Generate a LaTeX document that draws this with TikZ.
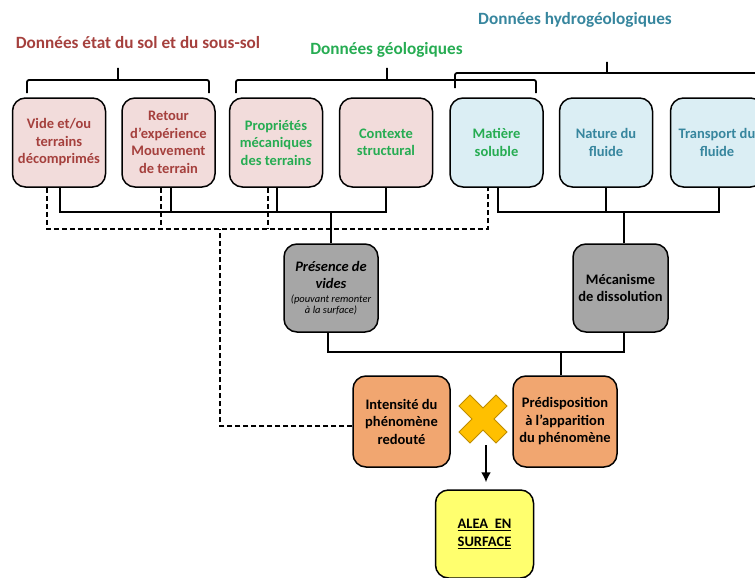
\documentclass[tikz,border=0pt]{standalone}
\usepackage{fontspec}
\setmainfont{Carlito}
\usepackage{tikz}
\usetikzlibrary{arrows.meta}

\definecolor{redtxt}{RGB}{165,64,61}
\definecolor{greentxt}{RGB}{38,172,82}
\definecolor{bluetxt}{RGB}{55,134,158}
\definecolor{pinkfill}{RGB}{242,220,219}
\definecolor{bluefill}{RGB}{219,238,244}
\definecolor{grayfill}{RGB}{166,166,166}
\definecolor{orangefill}{RGB}{241,166,112}
\definecolor{yellowfill}{RGB}{255,255,110}
\definecolor{crossfill}{RGB}{255,192,0}
\definecolor{crossline}{RGB}{190,140,0}

\newcommand{\smalltxt}[1]{{\fontsize{10.5}{12}\selectfont\mdseries\itshape #1}}

\begin{document}
\begin{tikzpicture}[x=1pt,y=-1pt,
  box/.style={draw,line width=1.5pt,rounded corners=13pt,minimum width=93pt,minimum height=89pt,
    align=center,inner sep=1pt,font=\fontsize{14.5}{17.5}\selectfont\bfseries},
  title/.style={font=\fontsize{17.2}{20}\selectfont\bfseries},
  wire/.style={line width=1.8pt},
  dashwire/.style={line width=1.8pt,dash pattern=on 5pt off 3pt},
  brace/.style={line width=1.8pt,rounded corners=2pt}]
\useasboundingbox (0,0) rectangle (755,578);

\node[title,text=redtxt] (41) at (138,43) {Données état du sol et du sous-sol};
\node[title,text=greentxt] (42) at (386.5,50) {Données géologiques};
\node[title,text=bluetxt] (43) at (575,20) {Données hydrogéologiques};

\draw[brace] (27,93) -- (27,80) -- (209,80) -- (209,93) (118,80) -- (118,68);
\draw[brace] (236,93) -- (236,80) -- (536,80) -- (536,93) (387,80) -- (387,68);
\draw[brace] (455,88) -- (455,73) -- (770,73) (607,73) -- (607,62);

\node[box,fill=pinkfill,text=redtxt] (31) at (59,142.5) {Vide et/ou\\terrains\\décomprimés};
\node[box,fill=pinkfill,text=redtxt] (32) at (168.5,142.5) {Retour\\d’expérience\\Mouvement\\de terrain};
\node[box,fill=pinkfill,text=greentxt] (33) at (276,142.5) {Propriétés\\mécaniques\\des terrains};
\node[box,fill=pinkfill,text=greentxt] (34) at (386,142.5) {Contexte\\structural};
\node[box,fill=bluefill,text=greentxt] (35) at (496.5,142.5) {Matière\\soluble};
\node[box,fill=bluefill,text=bluetxt] (36) at (606,142.5) {Nature du\\fluide};
\node[box,fill=bluefill,text=bluetxt] (37) at (717,142.5) {Transport du\\fluide};

\node[box,fill=grayfill,minimum width=94pt,minimum height=88pt] (21) at (331,288)
  {\itshape Présence de\\\itshape vides\\[-4pt]\smalltxt{(pouvant remonter}\\[-6pt]\smalltxt{à la surface)}};
\node[box,fill=grayfill,minimum width=95pt,minimum height=88pt] (22) at (620.5,288) {Mécanisme\\de dissolution};

\node[box,fill=orangefill,minimum width=97pt,minimum height=91pt] (11) at (401.5,421.5) {Intensité du\\phénomène\\redouté};
\node[box,fill=orangefill,minimum width=104pt,minimum height=91pt] (12) at (565,421.5) {Prédisposition\\à l’apparition\\du phénomène};

\node[box,fill=yellowfill,minimum width=98pt,minimum height=88pt] (01) at (484.5,534) {\underline{ALEA~ EN}\\\underline{SURFACE}};

\coordinate (bus1) at (0,212);
\coordinate (bus2) at (0,229);
\coordinate (bus3) at (0,352);
\coordinate (d0) at (220,229);
\coordinate (x0) at (483,419);
\coordinate (x1) at (486,445);

\draw[wire] ([xshift=1pt]31.south) -- ([xshift=1pt]31.south |- bus1) -- (34.south |- bus1) -- (34.south);
\draw[wire] ([xshift=2.5pt]32.south) -- ([xshift=2.5pt]32.south |- bus1);
\draw[wire] ([xshift=1pt]33.south) -- ([xshift=1pt]33.south |- bus1);
\draw[wire] (21.north) -- (21.north |- bus1);

\draw[wire] ([xshift=1.5pt]35.south) -- ([xshift=1.5pt]35.south |- bus1) -- ([xshift=2pt]37.south |- bus1) -- ([xshift=2pt]37.south);
\draw[wire] (36.south) -- (36.south |- bus1);
\draw[wire] ([xshift=3.5pt]22.north) -- ([xshift=3.5pt]22.north |- bus1);

\draw[dashwire] ([xshift=-12pt]31.south) -- ([xshift=-12pt]31.south |- bus2) -- ([xshift=-8.5pt]35.south |- bus2) -- ([xshift=-8.5pt]35.south);
\draw[dashwire] ([xshift=-7.5pt]32.south) -- ([xshift=-7.5pt]32.south |- bus2);
\draw[dashwire] ([xshift=-8pt]33.south) -- ([xshift=-8pt]33.south |- bus2);
\draw[dashwire] ([yshift=-4.5pt]11.west) -| (d0);

\draw[wire] ([xshift=-3pt]21.south) -- ([xshift=-3pt]21.south |- bus3) -- ([xshift=3.5pt]22.south |- bus3) -- ([xshift=3.5pt]22.south);
\draw[wire] ([xshift=-4pt]12.north) -- ([xshift=-4pt]12.north |- bus3);

\draw[fill=crossfill,draw=crossline,line width=0.8pt,shift={(x0)}]
  (0,-11) -- (13,-24) -- (24,-13) -- (11,0) -- (24,13) -- (13,24) -- (0,11)
  -- (-13,24) -- (-24,13) -- (-11,0) -- (-24,-13) -- (-13,-24) -- cycle;
\draw[wire,-{Latex[length=10pt,width=10pt]},shorten >=7pt] (x1) -- (01.north -| x1);
\end{tikzpicture}
\end{document}
